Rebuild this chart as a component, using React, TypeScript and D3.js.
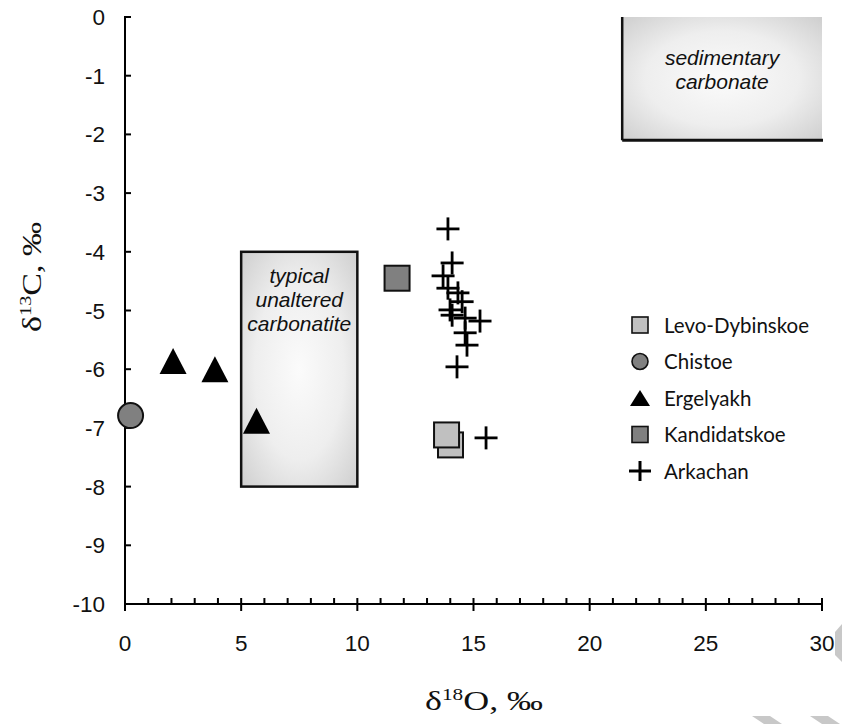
import React from 'react';
import * as d3 from 'd3';

// δ18O (x) vs δ13C (y), per locality
const levoDybinskoe = [
  { x: 14.01, y: -7.29 },
  { x: 13.84, y: -7.12 },
];
const chistoe = [{ x: 0.24, y: -6.79 }];
const ergelyakh = [
  { x: 2.07, y: -5.86 },
  { x: 3.87, y: -6.0 },
  { x: 5.66, y: -6.88 },
];
const kandidatskoe = [{ x: 11.71, y: -4.45 }];
const arkachan = [
  { x: 13.9, y: -3.61 },
  { x: 14.08, y: -4.19 },
  { x: 13.69, y: -4.41 },
  { x: 13.9, y: -4.62 },
  { x: 14.33, y: -4.7 },
  { x: 14.51, y: -4.85 },
  { x: 13.99, y: -4.99 },
  { x: 14.08, y: -5.08 },
  { x: 14.64, y: -5.13 },
  { x: 15.28, y: -5.18 },
  { x: 14.64, y: -5.38 },
  { x: 14.72, y: -5.59 },
  { x: 14.29, y: -5.96 },
  { x: 15.54, y: -7.17 },
];

const legendLabels = ['Levo-Dybinskoe', 'Chistoe', 'Ergelyakh', 'Kandidatskoe', 'Arkachan'];
const xMajor = [0, 5, 10, 15, 20, 25, 30];
const xMinor = d3.range(0, 31);
const yTicks = [0, -1, -2, -3, -4, -5, -6, -7, -8, -9, -10];

// field boxes (data units)
const sedimentaryBox = { x0: 21.4, x1: 30, y0: 0, y1: -2.1 };
const carbonatiteBox = { x0: 5, x1: 10, y0: -4, y1: -8 };

const W = 842;
const H = 724;

const x = d3.scaleLinear().domain([0, 30]).range([125, 822]);
const y = d3.scaleLinear().domain([-10, 0]).range([604, 17]);

type Kind = 'lightSquare' | 'circle' | 'triangle' | 'darkSquare' | 'plus';
const kinds: Kind[] = ['lightSquare', 'circle', 'triangle', 'darkSquare', 'plus'];

function Marker({ kind, cx, cy, big }: { kind: Kind; cx: number; cy: number; big: boolean }) {
  if (kind === 'lightSquare' || kind === 'darkSquare') {
    const s = big ? 25 : 16;
    return (
      <rect x={cx - s / 2} y={cy - s / 2} width={s} height={s}
        fill={kind === 'lightSquare' ? '#c0c0c0' : '#808080'}
        stroke="#111" strokeWidth={big ? 2 : 1.6} />
    );
  }
  if (kind === 'circle') {
    return <circle cx={cx} cy={cy} r={big ? 12.5 : 8} fill="#808080" stroke="#111" strokeWidth={big ? 2 : 1.6} />;
  }
  if (kind === 'triangle') {
    const w = big ? 27 : 20;
    const h = big ? 26 : 16;
    const pts = [[cx, cy - h / 2], [cx + w / 2, cy + h / 2], [cx - w / 2, cy + h / 2]];
    return <polygon points={pts.map(p => p.join(',')).join(' ')} fill="#000" />;
  }
  const a = big ? 11.5 : 11;
  const b = big ? 11.5 : 10;
  return (
    <g stroke="#000" strokeWidth={big ? 2.8 : 3}>
      <line x1={cx - a} x2={cx + a} y1={cy} y2={cy} />
      <line x1={cx} x2={cx} y1={cy - b} y2={cy + b} />
    </g>
  );
}

export default function App() {
  const series = [levoDybinskoe, chistoe, ergelyakh, kandidatskoe, arkachan];
  const sans = 'Liberation Sans, Arial, sans-serif';
  const serif = 'Liberation Serif, Times New Roman, serif';

  const sb = sedimentaryBox;
  const cb = carbonatiteBox;

  return (
    <svg width={W} height={H} style={{ position: 'absolute', left: 0, top: 0, background: '#fff' }}>
      <defs>
        <radialGradient id="fieldGrad" cx="50%" cy="50%" r="70%">
          <stop offset="0%" stopColor="#fbfbfb" />
          <stop offset="55%" stopColor="#eeeeee" />
          <stop offset="100%" stopColor="#cfcfcf" />
        </radialGradient>
      </defs>

      {/* sedimentary carbonate field */}
      <rect x={x(sb.x0)} y={y(sb.y0)} width={x(sb.x1) - x(sb.x0)} height={y(sb.y1) - y(sb.y0)}
        fill="url(#fieldGrad)" />
      <line x1={x(sb.x0)} x2={x(sb.x0)} y1={y(sb.y0)} y2={y(sb.y1)} stroke="#111" strokeWidth={2.5} />
      <line x1={x(sb.x0)} x2={x(sb.x1) + 1} y1={y(sb.y1)} y2={y(sb.y1)} stroke="#111" strokeWidth={3} />
      <text fontFamily={sans} fontStyle="italic" fontSize={21} textAnchor="middle" fill="#111">
        <tspan x={(x(sb.x0) + x(sb.x1)) / 2} y={65}>sedimentary</tspan>
        <tspan x={(x(sb.x0) + x(sb.x1)) / 2} y={89}>carbonate</tspan>
      </text>

      {/* typical unaltered carbonatite field */}
      <rect x={x(cb.x0)} y={y(cb.y0)} width={x(cb.x1) - x(cb.x0)} height={y(cb.y1) - y(cb.y0)}
        fill="url(#fieldGrad)" stroke="#111" strokeWidth={2.5} />
      <text fontFamily={sans} fontStyle="italic" fontSize={21} textAnchor="middle" fill="#111">
        {['typical', 'unaltered', 'carbonatite'].map((t, i) => (
          <tspan key={t} x={(x(cb.x0) + x(cb.x1)) / 2} y={283 + i * 24}>{t}</tspan>
        ))}
      </text>

      {/* axes */}
      <g stroke="#000" strokeWidth={2}>
        <line x1={x(0)} x2={x(30)} y1={y(-10)} y2={y(-10)} />
        <line x1={x(0)} x2={x(0)} y1={y(0) - 1} y2={y(-10) + 6} />
        {xMinor.filter(v => v % 5 !== 0).map(v => (
          <line key={'m' + v} x1={x(v)} x2={x(v)} y1={y(-10)} y2={y(-10) - 6} />
        ))}
        {xMajor.map(v => (
          <line key={'M' + v} x1={x(v)} x2={x(v)} y1={y(-10) - 6} y2={y(-10) + 7} />
        ))}
        {yTicks.map(v => (
          <line key={'y' + v} x1={x(0)} x2={x(0) + 6} y1={y(v)} y2={y(v)} />
        ))}
      </g>
      <g fontFamily={sans} fontSize={22.5} fill="#111">
        {xMajor.map(v => (
          <text key={v} x={x(v)} y={651} textAnchor="middle">{v}</text>
        ))}
        {yTicks.map(v => (
          <text key={v} x={105} y={y(v) + 8} textAnchor="end">{v}</text>
        ))}
      </g>

      {/* axis titles */}
      <text x={484} y={710} fontFamily={serif} fontSize={27} textAnchor="middle" fill="#111"
        textLength={118} lengthAdjust="spacingAndGlyphs">
        δ<tspan fontSize={16} dy={-10}>18</tspan><tspan dy={10}>O, ‰</tspan>
      </text>
      <text transform="translate(41,277) rotate(-90)" fontFamily={serif} fontSize={27}
        textAnchor="middle" fill="#111" textLength={110} lengthAdjust="spacingAndGlyphs">
        δ<tspan fontSize={16} dy={-10}>13</tspan><tspan dy={10}>C, ‰</tspan>
      </text>

      {/* data */}
      {series.map((data, i) => (
        <g key={legendLabels[i]}>
          {data.map((d, j) => (
            <Marker key={j} kind={kinds[i]} cx={x(d.x)} cy={y(d.y)} big={true} />
          ))}
        </g>
      ))}

      {/* legend */}
      {legendLabels.map((label, i) => {
        const cy = 325 + i * 36.5;
        return (
          <g key={label}>
            <Marker kind={kinds[i]} cx={640} cy={cy} big={false} />
            <text x={664} y={cy + 7.5} fontFamily="Lato, Carlito, sans-serif" fontSize={20.5} fill="#111">{label}</text>
          </g>
        );
      })}

      {/* page decoration in the corner */}
      <g fill="#c8c8c8">
        <polygon points="835,632 842,624 842,662 835,655" />
        <polygon points="752,716 770,716 782,724 764,724" />
        <polygon points="810,716 828,716 840,724 822,724" />
      </g>
    </svg>
  );
}
